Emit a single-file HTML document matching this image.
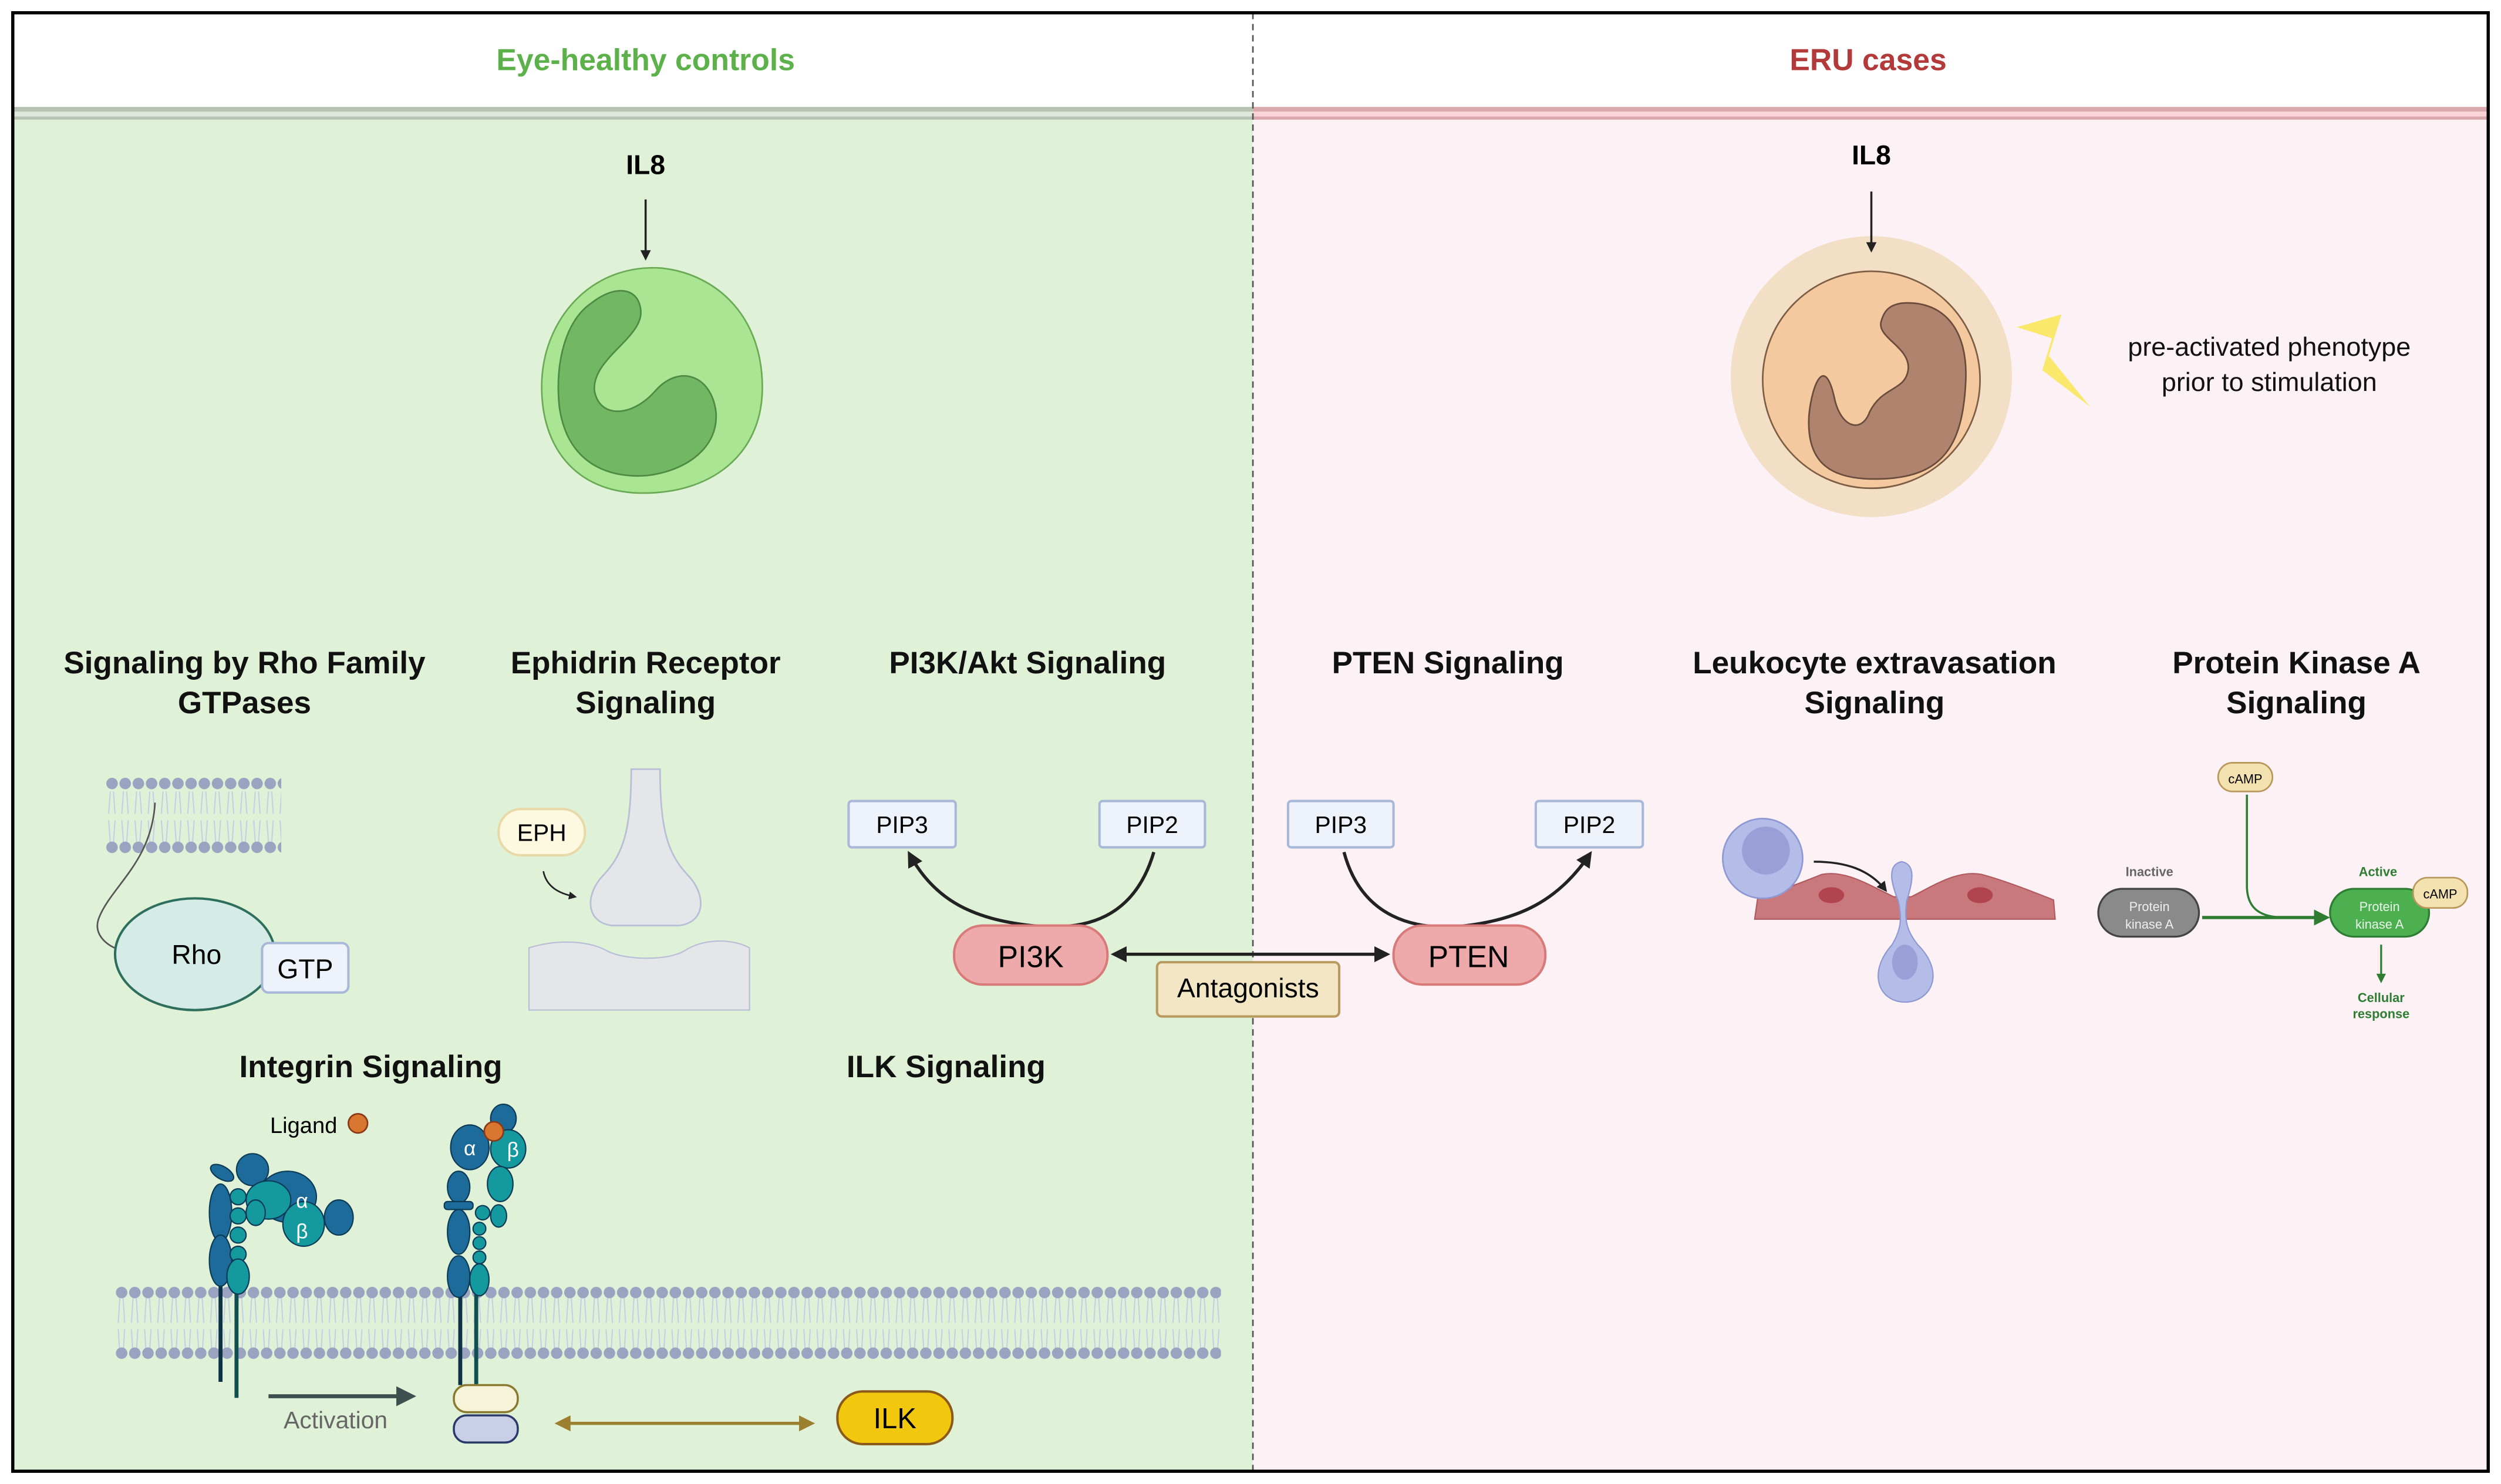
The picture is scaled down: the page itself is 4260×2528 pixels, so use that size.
<!DOCTYPE html>
<html><head><meta charset="utf-8"><style>html,body{margin:0;padding:0;background:#fff}svg{display:block}text{font-family:"Liberation Sans",Arial,sans-serif}</style></head>
<body>
<svg width="4260" height="2528" viewBox="0 0 1565 930" preserveAspectRatio="none" xmlns="http://www.w3.org/2000/svg">
<defs>
<pattern id="d1" x="66" y="486" width="8.25" height="10" patternUnits="userSpaceOnUse"><circle cx="4.1" cy="5" r="3.6" fill="#9aa3bf"/></pattern>
<pattern id="d2" x="66" y="526" width="8.25" height="10" patternUnits="userSpaceOnUse"><circle cx="4.1" cy="5" r="3.6" fill="#9aa3bf"/></pattern>
<pattern id="d3" x="72" y="805" width="8.25" height="10" patternUnits="userSpaceOnUse"><circle cx="4.1" cy="5" r="3.6" fill="#9aa3bf"/></pattern>
<pattern id="d4" x="72" y="843" width="8.25" height="10" patternUnits="userSpaceOnUse"><circle cx="4.1" cy="5" r="3.6" fill="#9aa3bf"/></pattern>
<pattern id="t1" x="66" y="496" width="8.25" height="32" patternUnits="userSpaceOnUse"><path d="M3 0 L2 14 M5 0 L6 14 M2 18 L3 32 M6 18 L5 32" stroke="#c3cbe8" stroke-width="0.7" fill="none"/></pattern>
<pattern id="t2" x="72" y="813" width="8.25" height="36" patternUnits="userSpaceOnUse"><path d="M3 0 L2 16 M5 0 L6 16 M2 20 L3 36 M6 20 L5 36" stroke="#c3cbe8" stroke-width="0.7" fill="none"/></pattern>
<marker id="ah" viewBox="0 0 10 10" refX="8" refY="5" markerWidth="5" markerHeight="5" orient="auto-start-reverse"><path d="M0 0 L10 5 L0 10 z" fill="#222"/></marker>
<marker id="ahg" viewBox="0 0 10 10" refX="8" refY="5" markerWidth="5" markerHeight="5" orient="auto-start-reverse"><path d="M0 0 L10 5 L0 10 z" fill="#9c8030"/></marker>
<marker id="ahgr" viewBox="0 0 10 10" refX="8" refY="5" markerWidth="5" markerHeight="5" orient="auto"><path d="M0 0 L10 5 L0 10 z" fill="#2e7d32"/></marker>
<marker id="ahs" viewBox="0 0 10 10" refX="8" refY="5" markerWidth="5" markerHeight="5" orient="auto"><path d="M0 0 L10 5 L0 10 z" fill="#3d4f4f"/></marker>
</defs>
<rect x="0" y="0" width="1565" height="930" fill="#fff"/>
<rect x="8" y="75" width="776" height="847" fill="#dff2d8"/>
<rect x="784" y="75" width="773" height="847" fill="#fcf1f5"/>
<rect x="8" y="67" width="776" height="3" fill="#b7c4b2"/>
<rect x="8" y="70" width="776" height="3" fill="#dfe6dc"/>
<rect x="8" y="73" width="776" height="2" fill="#b7c4b2"/>
<rect x="784" y="67" width="773" height="3" fill="#d9a9ae"/>
<rect x="784" y="70" width="773" height="3" fill="#fad4d8"/>
<rect x="784" y="73" width="773" height="2" fill="#d9a9ae"/>
<line x1="784" y1="8" x2="784" y2="922" stroke="#555" stroke-width="1" stroke-dasharray="4,3"/>
<rect x="8" y="8" width="1549" height="914" fill="none" stroke="#000" stroke-width="2"/>

<text x="404" y="44" font-size="19" font-weight="bold" fill="#5db14a" text-anchor="middle">Eye-healthy controls</text>
<text x="1169" y="44" font-size="19" font-weight="bold" fill="#b33a3a" text-anchor="middle">ERU cases</text>

<text x="404" y="109" font-size="17" font-weight="bold" text-anchor="middle">IL8</text>
<line x1="404" y1="125" x2="404" y2="162" stroke="#222" stroke-width="1.3" marker-end="url(#ah)"/>
<path d="M414 168 C450 172 478 200 477 245 C476 285 445 310 400 309 C360 308 338 280 339 240 C340 200 370 165 414 168 Z" fill="#a9e592" stroke="#6aaa55" stroke-width="1"/>
<path d="M370 190 C385 178 400 180 401 195 C402 212 370 225 372 245 C375 262 395 262 410 245 C425 228 445 235 448 258 C450 280 430 295 405 298 C380 300 355 290 350 255 C347 225 355 200 370 190 Z" fill="#72b764" stroke="#4e8a44" stroke-width="1"/>

<text x="1171" y="103" font-size="17" font-weight="bold" text-anchor="middle">IL8</text>
<circle cx="1171" cy="236" r="88" fill="#f2dfc6"/>
<line x1="1171" y1="120" x2="1171" y2="157" stroke="#222" stroke-width="1.3" marker-end="url(#ah)"/>
<circle cx="1171" cy="238" r="68" fill="#f4c9a0" stroke="#7d5e44" stroke-width="1"/>
<path d="M1190 190 C1215 188 1232 205 1230 240 C1228 280 1215 298 1180 300 C1145 302 1130 290 1132 260 C1134 240 1142 222 1148 250 C1152 268 1165 272 1170 258 C1178 242 1192 245 1194 232 C1196 218 1175 212 1177 202 C1179 194 1183 191 1190 190 Z" fill="#b0836e" stroke="#6a4c3c" stroke-width="1"/>
<path d="M1262 205 L1290 197 L1282 223 L1308 255 L1278 232 L1284 212 Z" fill="#f9e75e" opacity="0.9"/>
<text x="1420" y="223" font-size="16.5" text-anchor="middle" fill="#111">pre-activated phenotype</text>
<text x="1420" y="245" font-size="16.5" text-anchor="middle" fill="#111">prior to stimulation</text>

<g font-size="19.5" font-weight="bold" text-anchor="middle" fill="#111">
<text x="153" y="422">Signaling by Rho Family</text><text x="153" y="447">GTPases</text>
<text x="404" y="422">Ephidrin Receptor</text><text x="404" y="447">Signaling</text>
<text x="643" y="422">PI3K/Akt Signaling</text>
<text x="906" y="422">PTEN Signaling</text>
<text x="1173" y="422">Leukocyte extravasation</text><text x="1173" y="447">Signaling</text>
<text x="1437" y="422">Protein Kinase A</text><text x="1437" y="447">Signaling</text>
<text x="232" y="675">Integrin Signaling</text>
<text x="592" y="675">ILK Signaling</text>
</g>

<rect x="66" y="496" width="110" height="32" fill="url(#t1)"/>
<rect x="66" y="486" width="110" height="10" fill="url(#d1)"/>
<rect x="66" y="526" width="110" height="10" fill="url(#d2)"/>
<path d="M97 503 C95 540 70 555 62 575 C58 585 66 592 74 595" stroke="#555" stroke-width="1" fill="none"/>
<ellipse cx="122" cy="598" rx="50" ry="35" fill="#d5ece6" stroke="#2e6e5c" stroke-width="1.5"/>
<text x="123" y="604" font-size="17" text-anchor="middle">Rho</text>
<rect x="164" y="591" width="54" height="31" rx="4" fill="#eef3fb" stroke="#a8b8d8" stroke-width="1.5"/>
<text x="191" y="613" font-size="17" text-anchor="middle">GTP</text>

<rect x="312" y="507" width="54" height="29" rx="14" fill="#fdf8e0" stroke="#e9d9a8" stroke-width="1.5"/>
<text x="339" y="527" font-size="15" text-anchor="middle">EPH</text>
<path d="M340 546 C342 556 350 560 360 562" stroke="#222" stroke-width="1" fill="none" marker-end="url(#ah)"/>
<path d="M395 482 L413 482 C413 520 418 535 430 548 C442 560 442 578 425 580 L383 580 C366 578 366 560 378 548 C390 535 395 520 395 482 Z" fill="#e4e6ea" stroke="#b8bed6" stroke-width="1"/>
<path d="M331 594 C350 588 370 590 380 596 C392 602 418 602 428 596 C440 588 458 588 469 594 L469 633 L331 633 Z" fill="#e4e6ea" stroke="#b8bed6" stroke-width="0.8"/>

<g font-size="15" text-anchor="middle">
<rect x="531" y="502" width="67" height="29" rx="2" fill="#eef3fb" stroke="#a8b8d8" stroke-width="1.5"/><text x="564.5" y="522">PIP3</text>
<rect x="688" y="502" width="66" height="29" rx="2" fill="#eef3fb" stroke="#a8b8d8" stroke-width="1.5"/><text x="721" y="522">PIP2</text>
<rect x="806" y="502" width="66" height="29" rx="2" fill="#eef3fb" stroke="#a8b8d8" stroke-width="1.5"/><text x="839" y="522">PIP3</text>
<rect x="961" y="502" width="67" height="29" rx="2" fill="#eef3fb" stroke="#a8b8d8" stroke-width="1.5"/><text x="994.5" y="522">PIP2</text>
</g>
<path d="M722 534 C710 575 680 584 645 580 C610 576 585 565 569 535" stroke="#222" stroke-width="2" fill="none" marker-end="url(#ah)"/>
<path d="M841 534 C852 575 885 584 918 580 C950 576 975 565 995 535" stroke="#222" stroke-width="2" fill="none" marker-end="url(#ah)"/>
<line x1="697" y1="598" x2="868" y2="598" stroke="#222" stroke-width="2" marker-start="url(#ah)" marker-end="url(#ah)"/>
<rect x="597" y="580" width="96" height="37" rx="18" fill="#eeaaaa" stroke="#d87a7a" stroke-width="1.5"/>
<text x="645" y="606" font-size="19" text-anchor="middle">PI3K</text>
<rect x="872" y="580" width="95" height="37" rx="18" fill="#eeaaaa" stroke="#d87a7a" stroke-width="1.5"/>
<text x="919" y="606" font-size="19" text-anchor="middle">PTEN</text>
<rect x="724" y="603" width="114" height="34" rx="3" fill="#f2e6c4" stroke="#b89a5e" stroke-width="1.5"/>
<text x="781" y="625" font-size="17" text-anchor="middle">Antagonists</text>

<path d="M1098 576 L1100 562 C1115 558 1130 552 1140 548 C1155 545 1170 555 1185 562 L1196 562 C1210 555 1225 545 1240 548 C1255 552 1275 560 1285 564 L1286 576 Z" fill="#c9797c" stroke="#b05a60" stroke-width="0.8"/>
<ellipse cx="1146" cy="561" rx="8" ry="5" fill="#b04550"/>
<ellipse cx="1239" cy="561" rx="8" ry="5" fill="#b04550"/>
<circle cx="1103" cy="538" r="25" fill="#b4bde8" stroke="#8f98d2" stroke-width="1"/>
<circle cx="1105" cy="533" r="15" fill="#9a9fd8"/>
<path d="M1135 540 C1155 540 1170 545 1180 558" stroke="#222" stroke-width="1.3" fill="none" marker-end="url(#ah)"/>
<path d="M1190 540 C1200 542 1196 555 1193 565 C1192 575 1192 582 1200 592 C1218 610 1208 628 1192 628 C1176 628 1168 610 1184 592 C1190 582 1190 575 1188 565 C1184 555 1180 542 1190 540 Z" fill="#b4bde8" stroke="#8f98d2" stroke-width="0.8"/>
<ellipse cx="1192" cy="603" rx="8" ry="11" fill="#9a9fd8"/>

<rect x="1388" y="478" width="34" height="18" rx="9" fill="#f3e2b0" stroke="#b8975a" stroke-width="1"/>
<text x="1405" y="491" font-size="8" text-anchor="middle">cAMP</text>
<path d="M1406 498 L1406 555 C1406 570 1415 575 1430 575" stroke="#2e7d32" stroke-width="1.3" fill="none"/>
<line x1="1378" y1="575" x2="1456" y2="575" stroke="#2e7d32" stroke-width="2" marker-end="url(#ahgr)"/>
<text x="1345" y="549" font-size="8" font-weight="bold" fill="#666" text-anchor="middle">Inactive</text>
<rect x="1313" y="557" width="63" height="30" rx="15" fill="#8a8a8a" stroke="#444" stroke-width="1.2"/>
<text x="1345" y="571" font-size="8" fill="#eee" text-anchor="middle">Protein</text>
<text x="1345" y="582" font-size="8" fill="#eee" text-anchor="middle">kinase A</text>
<text x="1488" y="549" font-size="8" font-weight="bold" fill="#2e7d32" text-anchor="middle">Active</text>
<rect x="1458" y="557" width="62" height="30" rx="15" fill="#4caf50" stroke="#2e7d32" stroke-width="1.2"/>
<text x="1489" y="571" font-size="8" fill="#eaf5ea" text-anchor="middle">Protein</text>
<text x="1489" y="582" font-size="8" fill="#eaf5ea" text-anchor="middle">kinase A</text>
<rect x="1510" y="550" width="34" height="19" rx="9" fill="#f3e2b0" stroke="#b8975a" stroke-width="1"/>
<text x="1527" y="563" font-size="8" text-anchor="middle">cAMP</text>
<line x1="1490" y1="592" x2="1490" y2="615" stroke="#2e7d32" stroke-width="1.2" marker-end="url(#ahgr)"/>
<text x="1490" y="628" font-size="8" font-weight="bold" fill="#2e7d32" text-anchor="middle">Cellular</text>
<text x="1490" y="638" font-size="8" font-weight="bold" fill="#2e7d32" text-anchor="middle">response</text>

<rect x="72" y="813" width="692" height="36" fill="url(#t2)"/>
<rect x="72" y="805" width="692" height="10" fill="url(#d3)"/>
<rect x="72" y="843" width="692" height="10" fill="url(#d4)"/>

<line x1="138" y1="790" x2="138" y2="866" stroke="#0d3145" stroke-width="2.5"/>
<line x1="148" y1="790" x2="148" y2="876" stroke="#0f4f4f" stroke-width="2.5"/>
<g stroke="#0d3a55" stroke-width="0.8">
<ellipse cx="138" cy="760" rx="7" ry="18" fill="#1c6b9a"/>
<ellipse cx="138" cy="790" rx="7" ry="16" fill="#1c6b9a"/>
<ellipse cx="139" cy="735" rx="8" ry="4" fill="#1c6b9a" transform="rotate(30 139 735)"/>
<ellipse cx="158" cy="733" rx="10" ry="10" fill="#1c6b9a"/>
<ellipse cx="180" cy="750" rx="18" ry="16" fill="#1c6b9a"/>
<ellipse cx="212" cy="763" rx="9" ry="11" fill="#1c6b9a"/>
<ellipse cx="168" cy="752" rx="14" ry="12" fill="#14999f"/>
<ellipse cx="160" cy="760" rx="6" ry="8" fill="#14999f"/>
<ellipse cx="190" cy="767" rx="13" ry="14" fill="#14999f"/>
<circle cx="149" cy="750" r="5" fill="#14999f"/>
<circle cx="149" cy="762" r="5" fill="#14999f"/>
<circle cx="149" cy="774" r="5" fill="#14999f"/>
<circle cx="149" cy="786" r="5" fill="#14999f"/>
<ellipse cx="149" cy="800" rx="7" ry="11" fill="#14999f"/>
</g>
<text x="189" y="757" font-size="13" fill="#fff" text-anchor="middle">α</text>
<text x="189" y="776" font-size="13" fill="#fff" text-anchor="middle">β</text>
<text x="190" y="710" font-size="14" text-anchor="middle">Ligand</text>
<circle cx="224" cy="704" r="6" fill="#d9762f" stroke="#8a3a18" stroke-width="1"/>

<line x1="288" y1="800" x2="288" y2="868" stroke="#0d3145" stroke-width="2.5"/>
<line x1="298" y1="800" x2="298" y2="868" stroke="#0f4f4f" stroke-width="2.5"/>
<g stroke="#0d3a55" stroke-width="0.8">
<ellipse cx="287" cy="744" rx="7" ry="10" fill="#1c6b9a"/>
<rect x="278" y="753" width="18" height="5" rx="2" fill="#1c6b9a"/>
<ellipse cx="287" cy="772" rx="7" ry="14" fill="#1c6b9a"/>
<ellipse cx="287" cy="800" rx="7" ry="13" fill="#1c6b9a"/>
<ellipse cx="315" cy="701" rx="8" ry="9" fill="#1c6b9a"/>
<ellipse cx="294" cy="719" rx="12" ry="14" fill="#1c6b9a"/>
<ellipse cx="318" cy="720" rx="11" ry="12" fill="#14999f"/>
<ellipse cx="313" cy="742" rx="8" ry="11" fill="#14999f"/>
<ellipse cx="312" cy="762" rx="5" ry="7" fill="#14999f"/>
<circle cx="302" cy="760" r="4.5" fill="#14999f"/>
<circle cx="300" cy="770" r="4" fill="#14999f"/>
<circle cx="300" cy="779" r="4" fill="#14999f"/>
<circle cx="300" cy="788" r="4" fill="#14999f"/>
<ellipse cx="300" cy="802" rx="6" ry="10" fill="#14999f"/>
</g>
<circle cx="309" cy="709" r="6" fill="#d9762f" stroke="#8a3a18" stroke-width="1"/>
<text x="294" y="724" font-size="13" fill="#fff" text-anchor="middle">α</text>
<text x="321" y="725" font-size="13" fill="#fff" text-anchor="middle">β</text>

<line x1="168" y1="875" x2="258" y2="875" stroke="#3d4f4f" stroke-width="2.5" marker-end="url(#ahs)"/>
<text x="210" y="895" font-size="15" fill="#666" text-anchor="middle">Activation</text>
<rect x="284" y="868" width="40" height="17" rx="8" fill="#f6f3d8" stroke="#8a7a30" stroke-width="1.3"/>
<rect x="284" y="887" width="40" height="17" rx="8" fill="#c9cfe6" stroke="#2a3a6a" stroke-width="1.3"/>
<line x1="349" y1="892" x2="508" y2="892" stroke="#9c8030" stroke-width="2" marker-start="url(#ahg)" marker-end="url(#ahg)"/>
<rect x="524" y="872" width="72" height="33" rx="16" fill="#f2c80e" stroke="#8a5a1a" stroke-width="1.5"/>
<text x="560" y="895" font-size="18" text-anchor="middle">ILK</text>
</svg>
</body></html>
